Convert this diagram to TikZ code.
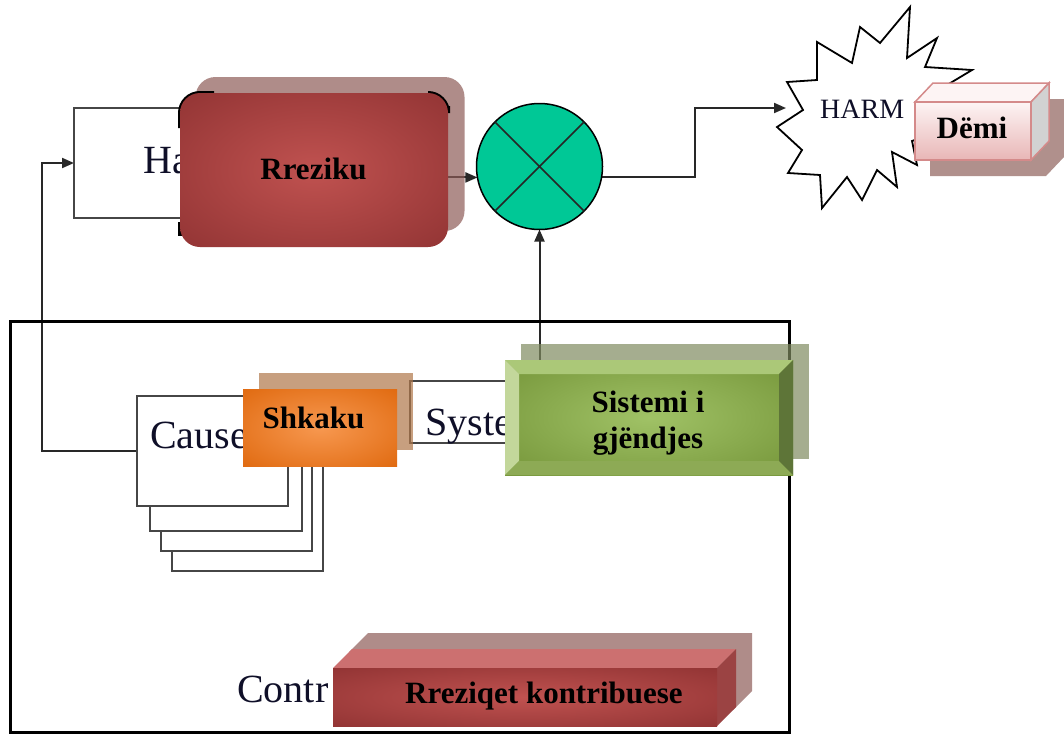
\documentclass[tikz,border=0pt]{standalone}
\usepackage{fontspec}
\setmainfont{Liberation Serif}
\usetikzlibrary{arrows.meta,shapes.geometric,calc}
\definecolor{linec}{RGB}{40,40,40}
\definecolor{boxc}{RGB}{70,70,70}
\definecolor{txtc}{RGB}{15,15,40}
\definecolor{multc}{RGB}{0,200,150}
\definecolor{rrIn}{RGB}{192,82,80}
\definecolor{rrOut}{RGB}{146,52,52}
\definecolor{shR}{RGB}{142,92,88}
\definecolor{orIn}{RGB}{247,152,80}
\definecolor{orOut}{RGB}{224,106,16}
\definecolor{shO}{RGB}{176,119,74}
\definecolor{grIn}{RGB}{160,194,102}
\definecolor{grOut}{RGB}{116,148,56}
\definecolor{shG}{RGB}{128,139,96}
\definecolor{bevT}{RGB}{171,200,120}
\definecolor{bevL}{RGB}{195,215,155}
\definecolor{bevB}{RGB}{141,170,85}
\definecolor{bevR}{RGB}{94,117,56}
\definecolor{dmTop}{RGB}{253,244,244}
\definecolor{dmBot}{RGB}{232,182,182}
\definecolor{dmEdge}{RGB}{212,138,138}
\definecolor{dmSide}{RGB}{210,210,210}
\definecolor{dmShadow}{RGB}{176,144,140}
\definecolor{rqTop}{RGB}{204,112,112}
\definecolor{rqSide}{RGB}{155,67,67}
\pgfdeclareradialshading{redrad}{\pgfpointorigin}{color(0bp)=(rrIn); color(36bp)=(rrOut); color(50bp)=(rrOut)}
\pgfdeclareradialshading{orrad}{\pgfpointorigin}{color(0bp)=(orIn); color(36bp)=(orOut); color(50bp)=(orOut)}
\pgfdeclareradialshading{grrad}{\pgfpointorigin}{color(0bp)=(grIn); color(36bp)=(grOut); color(50bp)=(grOut)}
\pgfdeclarelayer{back}
\pgfdeclarelayer{bg}
\pgfsetlayers{back,bg,main}
\begin{document}
\begin{tikzpicture}[x=1pt,y=-1pt,line join=miter,
  conn/.style={draw=linec,line width=2pt},
  arr/.style={conn,-{Triangle[length=12pt,width=10pt]}},
  wbox/.style={draw=boxc,line width=2pt,fill=white,rectangle,inner sep=0pt,outer sep=0pt},
  plain/.style={rectangle,inner sep=0pt,outer sep=0pt},
  lbl/.style={font=\fontsize{40}{44}\selectfont,text=txtc,inner sep=0pt,anchor=base west},
  bold/.style={font=\fontsize{31}{36}\selectfont\bfseries,text=black,inner sep=0pt},
]
\useasboundingbox (0,0) rectangle (1064,734);
\begin{pgfonlayer}{back}
\fill[white] (0,0) rectangle (1064,734);
\end{pgfonlayer}

% container
\node[plain,draw=black,line width=3pt,minimum width=779pt,minimum height=411pt] (contrib) at (399.5,526.5) {};
\node[lbl] (contrtext) at (237,702) {Contr};

% hazard box
\node[wbox,minimum width=226pt,minimum height=110pt] (hazard) at (187,163) {};
\node[lbl] (hazardtext) at (143,173) {Ha};

% cause boxes
\node[wbox,minimum width=151pt,minimum height=110pt] (cause4) at (247.5,516) {};
\node[wbox,minimum width=151pt,minimum height=110pt] (cause3) at (236.5,496) {};
\node[wbox,minimum width=152pt,minimum height=110pt] (cause2) at (226,476) {};
\node[wbox,minimum width=151pt,minimum height=110pt] (cause1) at (212.5,451) {};
\node[lbl] (causetext) at (150,448) {Cause};

% system box
\node[wbox,minimum width=210pt,minimum height=62pt] (system) at (515,412) {};
\node[lbl] (systemtext) at (425,435) {Syste};

% multiplier
\node[circle,draw=black,line width=1.5pt,fill=multc,minimum size=126pt,inner sep=0pt,outer sep=0pt] (mult) at (539.5,166.5) {};
\draw[line width=1.5pt,draw=black!85] (mult.45) -- (mult.225) (mult.135) -- (mult.315);

% harm starburst
\filldraw[fill=white,draw=black,line width=1.8pt]
 (787,82) -- (817,80) -- (817,42) -- (852,63) -- (860,27) -- (880,43) -- (910,7) -- (907,58) -- (937,38) -- (925,67) -- (972,70) -- (947,85) -- (995,105) -- (955,125) -- (912,141) -- (917,165) -- (892,152) -- (897,187) -- (877,170) -- (862,200) -- (847,177) -- (822,208) -- (820,175) -- (788,173) -- (802,150) -- (777,127) -- (803,110) -- cycle;
\coordinate (harmtip) at (786,108);
\node[font=\fontsize{28}{30}\selectfont,text=txtc,inner sep=0pt,anchor=base west] (harmtext) at (820,118) {HARM};

% Dëmi 3D box
\fill[dmShadow] (930,176) -- (930,118) -- (948,99) -- (1064,99) -- (1064,157) -- (1046,176) -- cycle;
\filldraw[fill=dmTop,draw=dmEdge,line width=1.5pt] (915,102) -- (933,83) -- (1049,83) -- (1031,102) -- cycle;
\filldraw[fill=dmSide,draw=dmEdge,line width=1.5pt] (1031,102) -- (1049,83) -- (1049,141) -- (1031,160) -- cycle;
\node[plain,draw=dmEdge,line width=1.5pt,top color=dmTop,bottom color=dmBot,minimum width=116pt,minimum height=58pt] (demi) at (973,131) {};
\node[bold,anchor=base] (demitext) at (972,138) {Dëmi};

% Rreziku
\node[plain,fill=shR,fill opacity=0.7,rounded corners=20pt,minimum width=269pt,minimum height=154pt] (rrezikushadow) at (330,154) {};
\draw[line width=4pt,black] (180,128) [rounded corners=20pt] -- (180,93) -- (214,93);
\draw[line width=4pt,black] (428,93) [rounded corners=20pt] -- (448,93) -- (448,106);
\draw[line width=4pt,black] (180,222) -- (180,236);
\node[plain,rounded corners=20pt,shading=redrad,minimum width=268pt,minimum height=154pt] (rreziku) at (314,170) {};
\node[bold,anchor=base] (rrezikutext) at (313.5,179) {Rreziku};

% Shkaku
\node[plain,fill=shO,fill opacity=0.7,minimum width=154pt,minimum height=77pt] (shkakushadow) at (336,411.5) {};
\node[plain,shading=orrad,minimum width=154pt,minimum height=77pt] (shkaku) at (320,427.5) {};
\node[bold,anchor=base] (shkakutext) at (313.5,428) {Shkaku};

% Sistemi i gjendjes (bevel)
\node[plain,fill=shG,fill opacity=0.7,minimum width=288pt,minimum height=115pt] (sistemishadow) at (665,401.5) {};
\node[plain,shading=grrad,minimum width=288pt,minimum height=115pt] (sistemi) at (649,417.5) {};
\fill[bevT] (505,360) -- (793,360) -- (779,374) -- (519,374) -- cycle;
\fill[bevL] (505,360) -- (519,374) -- (519,461) -- (505,475) -- cycle;
\fill[bevB] (505,475) -- (519,461) -- (779,461) -- (793,475) -- cycle;
\fill[bevR] (793,360) -- (779,374) -- (779,461) -- (793,475) -- cycle;
\node[bold,align=center] (sistemitext) at (648,423) {Sistemi i\\gjëndjes};

% Rreziqet kontribuese 3D box
\fill[shR,fill opacity=0.7] (349,710) -- (349,652) -- (368,633) -- (752,633) -- (752,691) -- (733,710) -- cycle;
\fill[rqTop] (333,668) -- (352,649) -- (736,649) -- (717,668) -- cycle;
\fill[rqSide] (717,668) -- (736,649) -- (736,707) -- (717,726) -- cycle;
\node[plain,shading=redrad,minimum width=384pt,minimum height=58pt] (rreziqet) at (525,697) {};
\node[bold,anchor=base] (rreziqettext) at (544,703) {Rreziqet kontribuese};

% connectors
\begin{pgfonlayer}{bg}
\draw[arr] (cause1.west) -- ++(-95,0) |- (hazard.west);
\draw[arr] (rreziku.east |- mult.190) -- (mult.190);
\draw[arr] (mult.-10) -- ++(93,0) |- (harmtip);
\draw[arr] (mult.south |- sistemi.north) -- (mult.south);
\end{pgfonlayer}
\end{tikzpicture}
\end{document}
